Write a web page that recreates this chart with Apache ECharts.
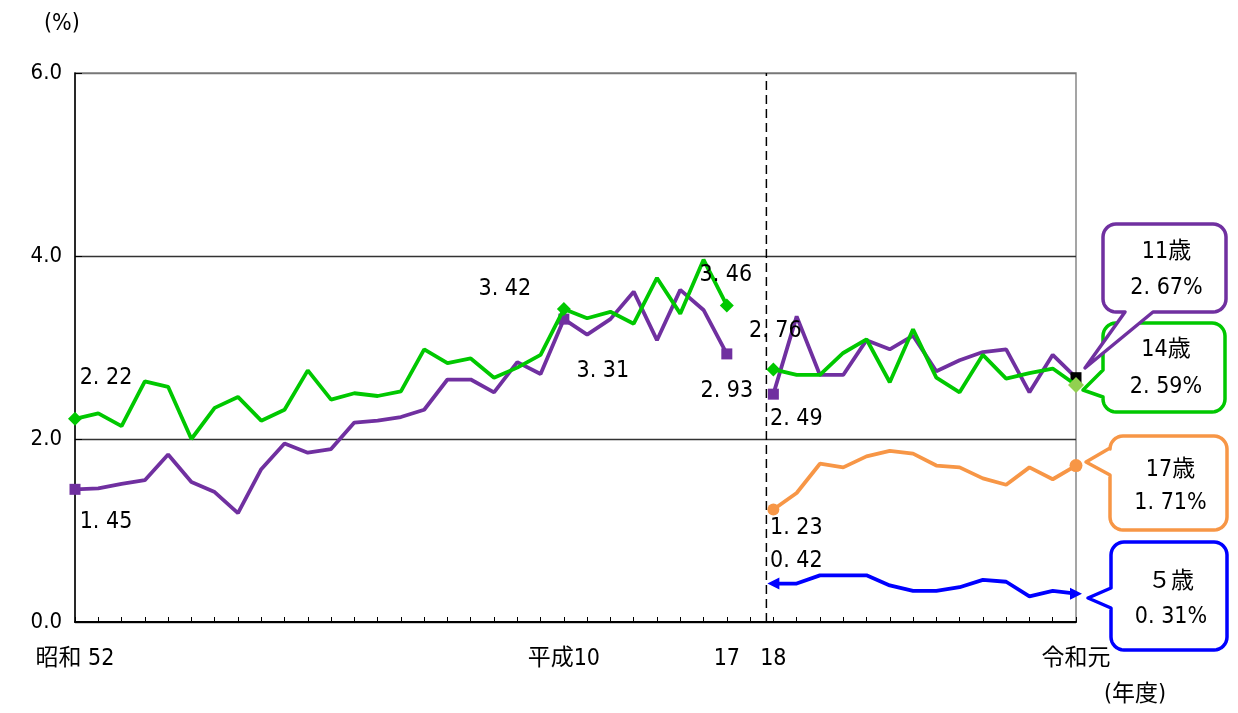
<!DOCTYPE html>
<html>
<head>
<meta charset="utf-8">
<title>う歯（むし歯）の者の割合の推移</title>
<script src="https://cdn.jsdelivr.net/npm/echarts/dist/echarts.min.js"></script>
<style>
  html, body { margin: 0; padding: 0; background: #fff; }
  #chart { width: 1238px; height: 713px; }
</style>
</head>
<body>
<div id="chart"></div>
<script>
// ---- data ---------------------------------------------------------------
// Fiscal years, two survey periods separated by a break
const yearsEarly = ['昭和52','昭和53','昭和54','昭和55','昭和56','昭和57','昭和58','昭和59','昭和60',
  '昭和61','昭和62','昭和63','平成元','平成2','平成3','平成4','平成5','平成6','平成7','平成8','平成9',
  '平成10','平成11','平成12','平成13','平成14','平成15','平成16','平成17'];
const yearsLate = ['平成18','平成19','平成20','平成21','平成22','平成23','平成24','平成25','平成26',
  '平成27','平成28','平成29','平成30','令和元'];

// Tick labels shown under the x axis
const tickLabels = { '昭和52': '昭和 52', '平成10': '平成10', '平成17': '17', '平成18': '18', '令和元': '令和元' };
const yTicks = [0, 2, 4, 6];

// 14歳 (%)
const age14Early = [2.22, 2.28, 2.14, 2.63, 2.57, 2.00, 2.34, 2.46, 2.20, 2.32, 2.75, 2.43, 2.50, 2.47,
  2.52, 2.98, 2.83, 2.88, 2.67, 2.78, 2.92, 3.42, 3.32, 3.39, 3.26, 3.76, 3.37, 3.96, 3.46];
const age14Late = [2.76, 2.70, 2.70, 2.94, 3.09, 2.62, 3.20, 2.67, 2.51, 2.92, 2.66, 2.72, 2.77, 2.59];

// 11歳 (%)
const age11Early = [1.45, 1.46, 1.51, 1.55, 1.83, 1.53, 1.42, 1.19, 1.67, 1.95, 1.85, 1.89, 2.18, 2.20,
  2.24, 2.32, 2.65, 2.65, 2.51, 2.84, 2.71, 3.31, 3.14, 3.31, 3.61, 3.08, 3.63, 3.41, 2.93];
const age11Late = [2.49, 3.34, 2.70, 2.70, 3.08, 2.98, 3.13, 2.74, 2.86, 2.95, 2.98, 2.51, 2.92, 2.67];

// 17歳 (%), second period only
const age17Late = [1.23, 1.41, 1.73, 1.69, 1.81, 1.87, 1.84, 1.71, 1.69, 1.57, 1.50, 1.69, 1.56, 1.71];

// ５歳 (%), second period only
const age5Late = [0.42, 0.42, 0.51, 0.51, 0.51, 0.40, 0.34, 0.34, 0.38, 0.46, 0.44, 0.28, 0.34, 0.31];

// ---- helpers ------------------------------------------------------------
const FONT = "'DejaVu Sans Condensed','Noto Sans CJK JP',sans-serif";
const categories = [...yearsEarly, '', ...yearsLate];
const GAP = yearsEarly.length;          // empty slot between the two periods
const LATE0 = GAP + 1;
const LAST = categories.length - 1;

const fmt2 = v => v.toFixed(2).replace('.', '. ');

function fullSeries(early, late) {
  const head = early ? early.slice() : new Array(yearsEarly.length).fill('-');
  return head.concat(['-'], late);
}

// marks: index -> { symbol, size, color, rotate, offset }
function buildData(values, marks) {
  return values.map((v, i) => {
    if (v === '-') return '-';
    const m = marks[i];
    if (!m) return { value: v, symbolSize: 0 };
    const item = {
      value: v,
      symbol: m.symbol,
      symbolSize: m.size,
      symbolRotate: m.rotate || 0,
      itemStyle: { color: m.color }
    };
    if (m.offset) {
      item.label = { show: true, position: 'inside', offset: m.offset };
    }
    return item;
  });
}

const PURPLE = '#7030A0', GREEN = '#00C800', ORANGE = '#F79646', BLUE = '#0000FF';

const marks11 = {
  0:     { symbol: 'rect', size: 11, color: PURPLE, offset: [31, 33] },
  21:    { symbol: 'rect', size: 11, color: PURPLE, offset: [39, 52] },
  [GAP - 1]: { symbol: 'rect', size: 11, color: PURPLE, offset: [0, 37] },
  [LATE0]:   { symbol: 'rect', size: 11, color: PURPLE, offset: [23, 25] },
  [LAST]:    { symbol: 'rect', size: 11, color: '#000' }
};
const marks14 = {
  0:     { symbol: 'diamond', size: 14, color: GREEN, offset: [31, -41] },
  21:    { symbol: 'diamond', size: 14, color: GREEN, offset: [-59, -20] },
  [GAP - 1]: { symbol: 'diamond', size: 14, color: GREEN, offset: [-1, -30] },
  [LATE0]:   { symbol: 'diamond', size: 14, color: GREEN, offset: [2, -38] },
  [LAST]:    { symbol: 'diamond', size: 16, color: '#92D050' }
};
const marks17 = {
  [LATE0]: { symbol: 'circle', size: 12, color: ORANGE, offset: [23, 19] },
  [LAST]:  { symbol: 'circle', size: 13, color: ORANGE }
};
const marks5 = {
  [LATE0]: { symbol: 'triangle', size: 12, color: BLUE, rotate: 90, offset: [23, -23] },
  [LAST]:  { symbol: 'triangle', size: 12, color: BLUE, rotate: -90 }
};

function lineSeries(name, color, values, marks, z) {
  return {
    name, type: 'line', z,
    data: buildData(values, marks),
    showSymbol: true,
    connectNulls: false,
    lineStyle: { color, width: 3.8 },
    itemStyle: { color },
    label: {
      show: false, color: '#000', fontSize: 23, fontFamily: FONT,
      formatter: p => fmt2(p.value)
    },
    emphasis: { disabled: true },
    animation: false
  };
}

// ---- callouts -----------------------------------------------------------
function roundedCalloutPoints(x, y, w, h, r, ptr) {
  const pts = [];
  const arc = (cx, cy, a0, a1) => {
    const n = 8;
    for (let k = 0; k <= n; k++) {
      const a = a0 + (a1 - a0) * k / n;
      pts.push([cx + r * Math.cos(a), cy + r * Math.sin(a)]);
    }
  };
  const P = Math.PI;
  arc(x + r, y + r, P, 1.5 * P);               // top-left
  arc(x + w - r, y + r, 1.5 * P, 2 * P);       // top-right
  arc(x + w - r, y + h - r, 0, 0.5 * P);       // bottom-right
  if (ptr.side === 'bottom') {
    pts.push([ptr.b, y + h], ptr.tip, [ptr.a, y + h]);
  }
  arc(x + r, y + h - r, 0.5 * P, P);           // bottom-left
  if (ptr.side === 'left') {
    pts.push([x, ptr.b], ptr.tip, [x, ptr.a]);
  }
  return pts;
}

const callouts = [
  { label: '14歳', color: GREEN, value: age14Late[age14Late.length - 1], z: 10,
    box: [1103, 323, 122, 89], ptr: { side: 'left', a: 370, b: 397, tip: [1083, 390] }, lines: [350, 387] },
  { label: '11歳', color: PURPLE, value: age11Late[age11Late.length - 1], z: 12,
    box: [1103, 224, 123, 88], ptr: { side: 'bottom', a: 1125, b: 1153, tip: [1085, 368] }, lines: [252, 288] },
  { label: '17歳', color: ORANGE, value: age17Late[age17Late.length - 1], z: 10,
    box: [1110, 436, 117, 94], ptr: { side: 'left', a: 448, b: 475, tip: [1086, 462] }, lines: [470, 503] },
  { label: '５歳', color: BLUE, value: age5Late[age5Late.length - 1], z: 10,
    box: [1111, 542, 116, 108], ptr: { side: 'left', a: 588, b: 608, tip: [1088, 598] }, lines: [582, 617] }
];

const graphics = [];
callouts.forEach(c => {
  const [x, y, w, h] = c.box;
  graphics.push({
    type: 'polygon', z: c.z, silent: true,
    shape: { points: roundedCalloutPoints(x, y, w, h, 13, c.ptr) },
    style: { fill: '#fff', stroke: c.color, lineWidth: 3.5, lineJoin: 'round' }
  });
  const cx = x + w / 2 + 2;
  [c.label, fmt2(c.value) + '%'].forEach((t, k) => {
    graphics.push({
      type: 'text', z: c.z + 1, silent: true, x: cx, y: c.lines[k],
      style: { text: t, fill: '#000', fontSize: 23, fontFamily: FONT,
               textAlign: 'center', textVerticalAlign: 'middle', align: 'center', verticalAlign: 'middle' }
    });
  });
});

// axis unit captions
graphics.push({ type: 'text', x: 44, y: 24, silent: true,
  style: { text: '(%)', fill: '#000', fontSize: 23, fontFamily: FONT, textVerticalAlign: 'middle', verticalAlign: 'middle' } });
graphics.push({ type: 'text', x: 1104, y: 695, silent: true,
  style: { text: '(年度)', fill: '#000', fontSize: 23, fontFamily: FONT, textVerticalAlign: 'middle', verticalAlign: 'middle' } });

// ---- chart --------------------------------------------------------------
const chart = echarts.init(document.getElementById('chart'), null, { renderer: 'canvas' });

chart.setOption({
  animation: false,
  backgroundColor: '#fff',
  grid: { left: 75, right: 162, top: 73, bottom: 91, show: true,
          borderColor: '#888', borderWidth: 1.5, backgroundColor: 'transparent' },
  xAxis: [
    {
      type: 'category', data: categories, boundaryGap: false,
      axisLine: { lineStyle: { color: '#000', width: 2 } },
      axisTick: { show: true, inside: true, length: 5, interval: 0, lineStyle: { color: '#000', width: 1 } },
      axisLabel: { interval: 0, margin: 26, color: '#000', fontSize: 23, fontFamily: FONT,
                   formatter: v => tickLabels[v] || '' },
      splitLine: { show: false }
    },
    { type: 'value', min: 0, max: LAST, show: false }
  ],
  yAxis: {
    type: 'value', min: yTicks[0], max: yTicks[yTicks.length - 1], interval: 2,
    axisLine: { show: true, lineStyle: { color: '#000', width: 1.5 } },
    axisTick: { show: true, inside: true, length: 7, lineStyle: { color: '#000' } },
    axisLabel: { margin: 13, color: '#000', fontSize: 22, fontFamily: FONT,
                 formatter: v => v.toFixed(1) },
    splitLine: { show: true, lineStyle: { color: ['#333', '#333', '#333', '#777'], width: 1.3 } }
  },
  series: [
    // break between the two survey periods
    {
      type: 'line', xAxisIndex: 1, z: 1, silent: true, symbol: 'none',
      data: [[GAP + 0.7, yTicks[0]], [GAP + 0.7, yTicks[yTicks.length - 1]]],
      lineStyle: { color: '#000', width: 1.5, type: [9, 5] },
      emphasis: { disabled: true }
    },
    lineSeries('11歳', PURPLE, fullSeries(age11Early, age11Late), marks11, 3),
    lineSeries('14歳', GREEN, fullSeries(age14Early, age14Late), marks14, 4),
    lineSeries('17歳', ORANGE, fullSeries(null, age17Late), marks17, 3),
    lineSeries('５歳', BLUE, fullSeries(null, age5Late), marks5, 3)
  ],
  graphic: graphics
});
</script>
</body>
</html>
